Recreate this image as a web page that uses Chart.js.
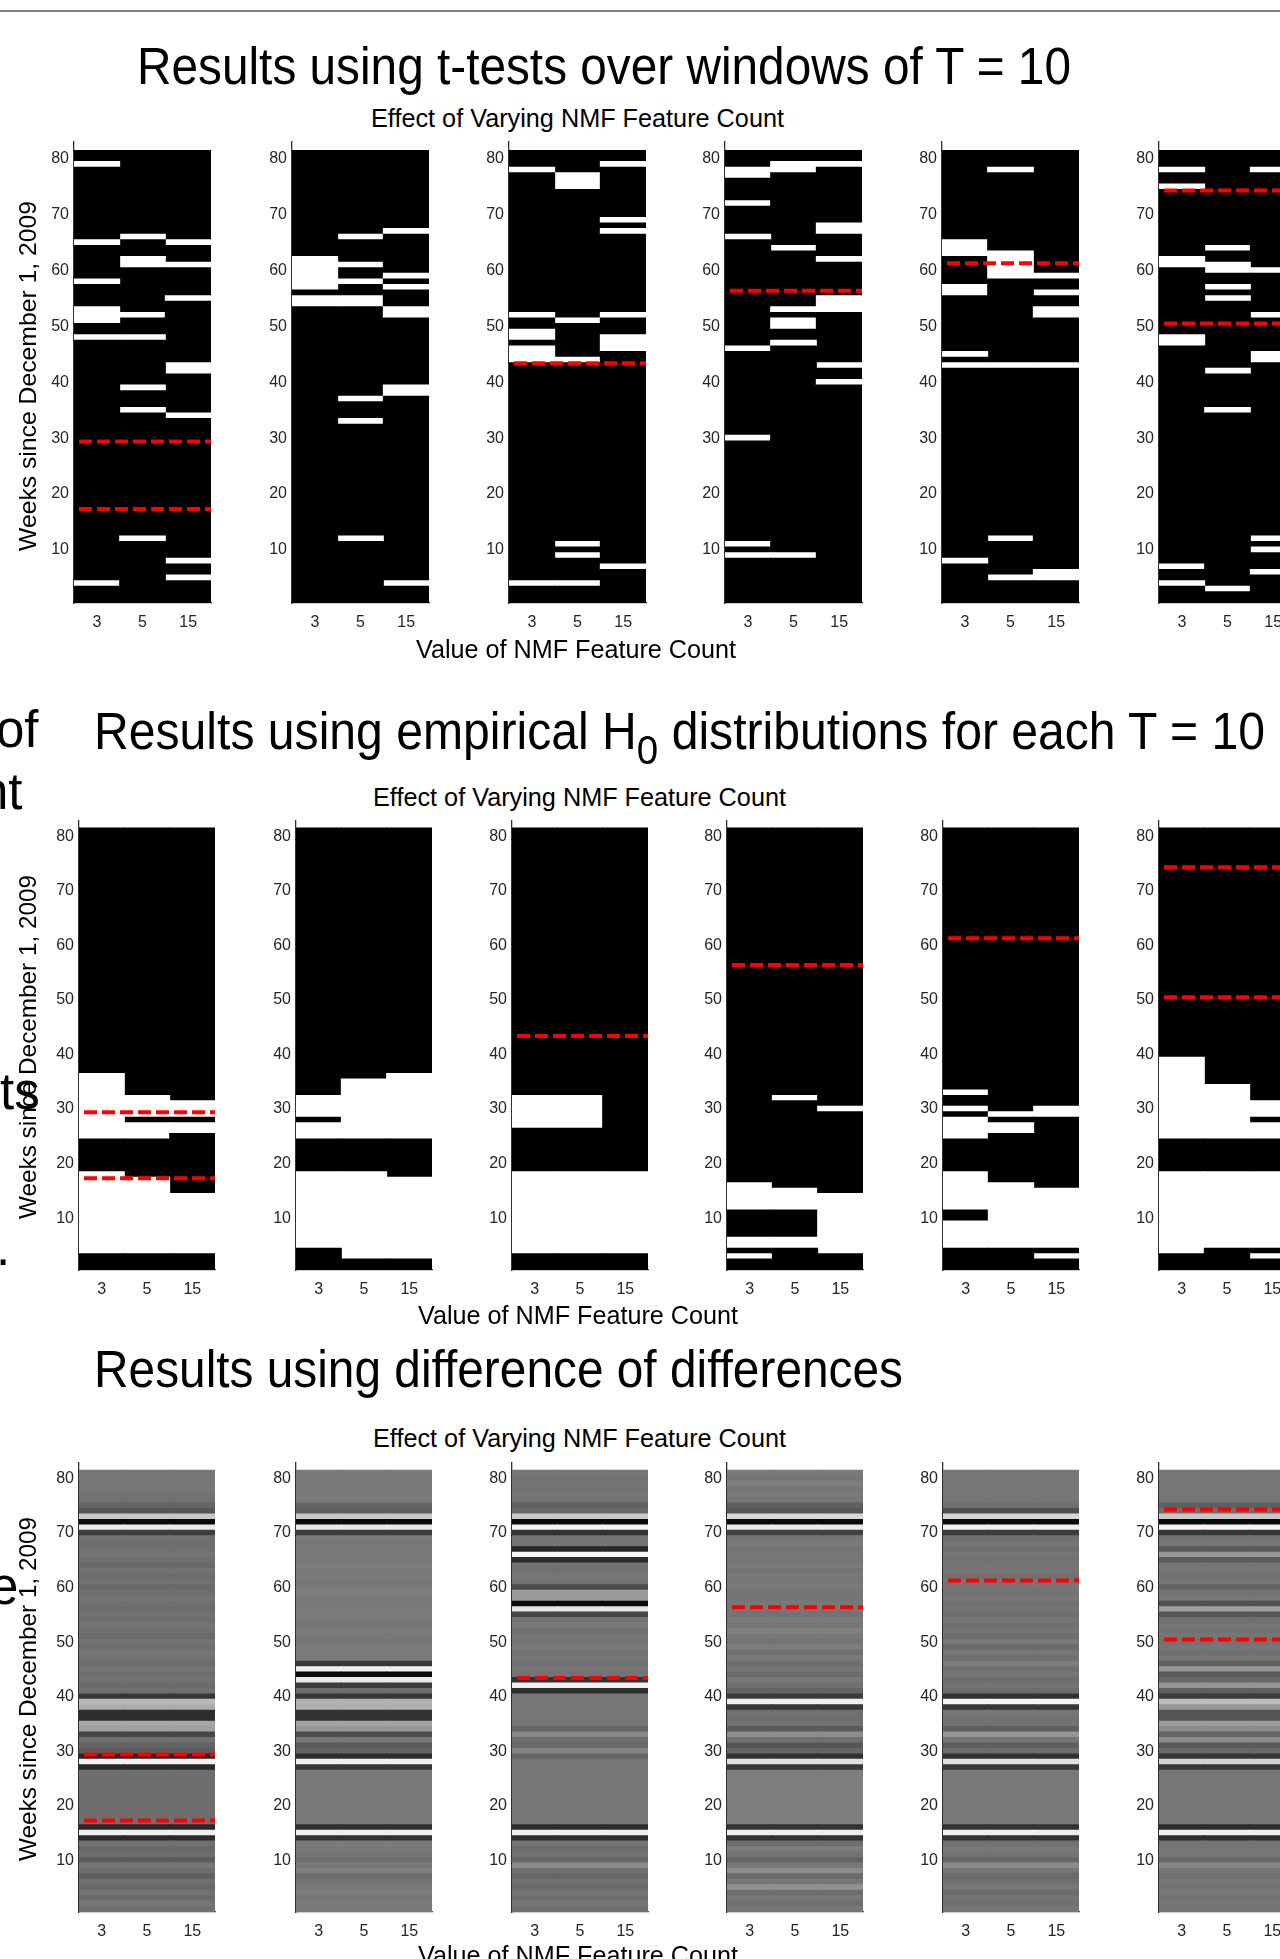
<!DOCTYPE html>
<html><head><meta charset="utf-8"><title>Effect of Varying NMF Feature Count</title>
<script src="https://cdn.jsdelivr.net/npm/chart.js@4.4.1/dist/chart.umd.min.js"></script>
<style>
html,body{margin:0;padding:0;background:#fff;}
body{width:1280px;height:1959px;position:relative;overflow:hidden;font-family:"Liberation Sans",Arial,Helvetica,sans-serif;color:#000;}
.t{position:absolute;white-space:nowrap;}
canvas{position:absolute;}
#rule{position:absolute;left:0;top:10px;width:1280px;height:2px;background:#7f7f7f;}
</style></head><body>
<div id="rule"></div>
<script>
// ---------------- DATA ----------------
const weekCount = 81;                       // rows (weeks) per panel, week 1 at the bottom
const featureCounts = ['3', '5', '15'];     // x categories (NMF feature count)
const yTickValues = [10, 20, 30, 40, 50, 60, 70, 80];
// red dashed change-points per panel column (weeks)
const breakpoints = [[29.4, 17.3], [], [43.4], [56.4], [61.3], [74.3, 50.5]];

// Row 1: t-tests — weeks flagged (white) per panel, per feature count, as [firstWeek, lastWeek]
const tt1 = [[[79,79],[65,65],[58,58],[51,53],[48,48],[4,4]], [[66,66],[61,62],[52,52],[48,48],[39,39],[35,35],[12,12]], [[65,65],[61,61],[55,55],[42,43],[34,34],[8,8],[5,5]]];
const tt2 = [[[57,62],[54,55]], [[66,66],[61,61],[58,58],[54,55],[37,37],[33,33],[12,12]], [[67,67],[59,59],[57,57],[52,53],[38,39],[4,4]]];
const tt3 = [[[78,78],[52,52],[48,49],[44,46],[4,4]], [[75,77],[51,51],[44,44],[11,11],[9,9],[4,4]], [[79,79],[69,69],[67,67],[52,52],[46,48],[7,7]]];
const tt4 = [[[77,78],[72,72],[66,66],[46,46],[30,30],[11,11],[9,9]], [[78,79],[64,64],[53,53],[50,51],[47,47],[9,9]], [[79,79],[67,68],[62,62],[53,55],[43,43],[40,40]]];
const tt5 = [[[63,65],[56,57],[45,45],[43,43],[8,8]], [[78,78],[59,63],[43,43],[12,12],[5,5]], [[59,59],[56,56],[52,53],[43,43],[5,6]]];
const tt6 = [[[78,78],[75,75],[61,62],[47,48],[7,7],[4,4]], [[64,64],[60,61],[57,57],[55,55],[42,42],[35,35],[3,3]], [[78,78],[60,60],[52,52],[44,45],[12,12],[10,10],[6,6]]];

// Row 2: empirical H0 — weeks flagged (white)
const eh1 = [[[25,36],[4,18]], [[29,32],[25,27],[4,17]], [[29,31],[26,27],[4,14]]];
const eh2 = [[[29,32],[25,27],[5,18]], [[25,35],[3,18]], [[25,36],[3,17]]];
const eh3 = [[[27,32],[4,18]], [[27,32],[4,18]], [[4,18]]];
const eh4 = [[[12,16],[5,6],[3,3]], [[32,32],[12,15],[5,6]], [[30,30],[4,14]]];
const eh5 = [[[33,33],[30,30],[25,28],[12,18],[5,9]], [[29,29],[26,27],[5,16]], [[29,30],[5,15],[3,3]]];
const eh6 = [[[25,39],[4,18]], [[25,34],[5,18]], [[29,31],[25,27],[5,18],[3,3]]];

// Row 3: difference of differences — grey level (0 black .. 255 white) per week, week 1 first
const dd1 = [112,118,106,114,104,112,96,110,120,92,110,104,112, 42,240,40, 110,110,110,110,110,110,110,110,110,110, 40,242,38,92,100,112,70,160,168,45,45,172,185,55, 112,108,114,110,116,108,112,118,110,114,106,112,116,110,114,108,112,116,110,106,112,108,114,106,110,116,112,110,112, 62,235,10,200,85,100,112,116,118,118,118,118];
const dd2 = [120,122,118,124,120,116,108,128,120,110,118,120,122, 50,240,48, 122,122,122,122,122,122,122,122,122,122, 55,240,45,100,90,120,78,150,165,50,50,175,178,55, 110,60,235,10,240,55, 122,124,122,118,122,124,120,122,124,122,120,122,124,122,120,122,122,124,120,122,122,120,122, 60,235,12,200,95,98,122,122,122,122,122,122];
const dd3 = [112,118,110,116,106,114,102,112,140,104,114,108,116, 45,240,45, 118,118,118,118,118,118,118,118,118,118, 118,118,100,130,105,110,135,100,118,118,118,118,118,118, 45,240,50, 115,118,112,118,114,120,116,118,112,120,116, 70,230,10,155,155,75, 115,118,114,116, 45,245,40,115,115, 50,245,10,200,105,95,115,118,115,118,115,118];
const dd4 = [118,110,120,110,145,118,105,140,120,100,115,125,110, 50,240,50, 125,125,125,125,125,125,125,125,125,125, 55,225,50,100,85,112,140,90,112,110,112,55,240,60, 100,112,120,108,118,110,122,112,125,115,120,128,118,122,115,118,120,116,118,122,118,120,116,122,118,120,116,122,118, 65,235,10,215,85,95,118,122,118,125,118,122];
const dd5 = [118,112,116,108,120,112,106,118,140,104,116,120,114, 50,240,50, 120,120,120,120,120,120,120,120,120,120, 55,225,50,110,95,118,150,95,115,115,118,55,245,50, 108,115,110,118,112,125,112,118,106,122,110,116,112,118,110,116,112,118,115,118,116,112,118,116,114,118,112,118,112, 60,240,10,215,78,112,118,118,118,118,118,118];
const dd6 = [116,118,114,120,116,118,112,118,135,105,118,118,116, 45,240,45, 118,118,118,118,118,118,118,118,118,118, 55,210,55,105,90,140,100,140,155,85,85,150,190,60, 95,150,105,90,150,95, 118,112,118,114,118,116,118,112, 85,160,80,118,116,100,118,114,118,116,90,150,90,118,115, 55,245,10,200,110,95,118,118,118,118,118,118];

// ---------------- LAYOUT (not data) ----------------
const FONT = '"Liberation Sans", Arial, Helvetica, sans-serif';
const rows = [
  {panels: [tt1, tt2, tt3, tt4, tt5, tt6], kind: 'flags', axisTop: 141.7, bottom: 602.7, yMax: 83.0, lefts: [74.3, 291.7, 509, 725, 942, 1159.3], width: 137},
  {panels: [eh1, eh2, eh3, eh4, eh5, eh6], kind: 'flags', axisTop: 821, bottom: 1270, yMax: 82.8, lefts: [79, 295.7, 511.7, 726.7, 942.7, 1159], width: 136},
  {panels: [dd1, dd2, dd3, dd4, dd5, dd6], kind: 'grey', axisTop: 1463.3, bottom: 1912.3, yMax: 82.85, lefts: [79, 295.7, 511.7, 726.7, 942.7, 1159], width: 136}
];
const PADL = 45, PADR = 8, PADT = 4, XH = 32;

function columnsFor(kind, panel) {
  if (kind === 'grey') return featureCounts.map(() => panel.slice(0, weekCount));
  return panel.map(runs => {
    const a = new Array(weekCount).fill(0);
    runs.forEach(([lo, hi]) => { for (let w = lo; w <= hi; w++) a[w - 1] = 255; });
    return a;
  });
}
function runsOf(arr) {
  const r = []; let s = 0;
  for (let i = 1; i <= arr.length; i++) {
    if (i === arr.length || arr[i] !== arr[s]) { r.push({lo: s + 1, hi: i, g: arr[s]}); s = i; }
  }
  return r;
}
function datasetsFor(cols, bps) {
  const runs = cols.map(runsOf);
  const n = Math.max(...runs.map(r => r.length));
  const ds = [];
  for (let k = 0; k < n; k++) {
    ds.push({
      type: 'bar', xAxisID: 'x', yAxisID: 'y', order: 2,
      data: runs.map(r => r[k] ? [r[k].lo - 0.5, r[k].hi + 0.5] : null),
      backgroundColor: runs.map(r => r[k] ? `rgb(${r[k].g},${r[k].g},${r[k].g})` : 'rgba(0,0,0,0)'),
      grouped: false, barPercentage: 1, categoryPercentage: 1, borderWidth: 0, inflateAmount: 0.5
    });
  }
  bps.forEach(b => ds.push({
    type: 'line', xAxisID: 'xl', yAxisID: 'y', order: 0,
    data: [{x: 0.5, y: b}, {x: 3.5, y: b}],
    borderColor: '#ff0000', borderWidth: 4, borderDash: [13, 5], borderDashOffset: 13,
    pointRadius: 0, fill: false, tension: 0, clip: false, borderCapStyle: 'butt'
  }));
  return ds;
}
rows.forEach(row => {
  row.panels.forEach((panel, p) => {
    const cv = document.createElement('canvas');
    const W = PADL + row.width + PADR, H = PADT + (row.bottom - row.axisTop) + XH;
    cv.width = Math.round(W); cv.height = Math.round(H);
    cv.style.left = (row.lefts[p] - PADL) + 'px';
    cv.style.top = (row.axisTop - PADT) + 'px';
    document.body.appendChild(cv);
    new Chart(cv, {
      type: 'bar',
      data: {labels: featureCounts, datasets: datasetsFor(columnsFor(row.kind, panel), breakpoints[p])},
      options: {
        responsive: false, animation: false, events: [], devicePixelRatio: 1,
        layout: {padding: {top: PADT, right: PADR, left: 0, bottom: 0}},
        plugins: {legend: {display: false}, tooltip: {enabled: false}, title: {display: false}},
        scales: {
          x: {type: 'category', offset: true, z: 1,
              grid: {display: false, drawTicks: false},
              border: {display: true, color: '#404040', width: 1.2},
              ticks: {padding: 10, color: '#262626', font: {family: FONT, size: 16}, maxRotation: 0, autoSkip: false},
              afterFit: s => { s.height = XH; s.paddingLeft = 0; s.paddingRight = 0; }},
          xl: {type: 'linear', display: false, min: 0.5, max: 3.5, offset: false, beginAtZero: false, grace: 0,
               grid: {offset: false}},
          y: {type: 'linear', min: 0.5, max: row.yMax, z: 1,
              grid: {display: false, drawTicks: false},
              border: {display: true, color: '#303030', width: 1.3},
              ticks: {padding: 5, color: '#262626', font: {family: FONT, size: 16}},
              afterBuildTicks: s => { s.ticks = yTickValues.map(v => ({value: v})); },
              afterFit: s => { s.width = PADL; s.paddingTop = 0; s.paddingBottom = 0; }}
        }
      }
    });
  });
});

// ---------------- TEXT ----------------
const BASE = 0.8465; // baseline position inside a line-height:1 box for Liberation Sans
function addText(html, o) {
  const d = document.createElement('div');
  d.className = 't';
  d.innerHTML = html;
  d.style.fontSize = o.size + 'px';
  d.style.lineHeight = o.size + 'px';
  document.body.appendChild(d);
  const w0 = d.getBoundingClientRect().width;
  const sx = o.width ? o.width / w0 : 1;
  const left = o.cx !== undefined ? o.cx - (o.width || w0) / 2 : o.left;
  d.style.left = left + 'px';
  d.style.top = (o.base - BASE * o.size) + 'px';
  d.style.transformOrigin = '0 0';
  d.style.transform = `scaleX(${sx})`;
}
function addYLabel(text, cx, cy, size, len) {
  const d = document.createElement('div');
  d.className = 't';
  d.textContent = text;
  d.style.fontSize = size + 'px';
  d.style.lineHeight = size + 'px';
  document.body.appendChild(d);
  const w0 = d.getBoundingClientRect().width;
  d.style.left = cx + 'px';
  d.style.top = cy + 'px';
  d.style.transformOrigin = '50% 50%';
  d.style.transform = `translate(-50%,-50%) rotate(-90deg) scaleX(${len / w0})`;
}
const SUB = '<span style="font-size:0.8em;position:relative;top:0.36em;line-height:0">0</span>';
addText('Results using t-tests over windows of T = 10', {left: 137, base: 84, size: 51, width: 934});
addText('Effect of Varying NMF Feature Count', {cx: 577, base: 127, size: 26, width: 413});
addText('Value of NMF Feature Count', {cx: 576, base: 658, size: 26, width: 320});
addText('Results using empirical H' + SUB + ' distributions for each T = 10', {left: 94, base: 749, size: 51, width: 1171});
addText('Effect of Varying NMF Feature Count', {cx: 579, base: 806, size: 26, width: 413});
addText('Value of NMF Feature Count', {cx: 578, base: 1324, size: 26, width: 320});
addText('Results using difference of differences', {left: 94, base: 1387, size: 51, width: 809});
addText('Effect of Varying NMF Feature Count', {cx: 579, base: 1447, size: 26, width: 413});
addText('Value of NMF Feature Count', {cx: 578, base: 1964, size: 26, width: 320});
addYLabel('Weeks since December 1, 2009', 28, 376, 24, 350);
addYLabel('Weeks since December 1, 2009', 28, 1047, 24, 344);
addYLabel('Weeks since December 1, 2009', 28, 1689, 24, 344);
// fragments of neighbouring text cut by the left edge
addText('of', {left: -4, base: 747, size: 51});
addText('nt', {left: -20, base: 809, size: 51});
addText('ts', {left: 0, base: 1109, size: 51});
addText('.', {left: -4, base: 1265, size: 51});
addText('e', {left: -10, base: 1604, size: 51});
</script>
</body></html>
